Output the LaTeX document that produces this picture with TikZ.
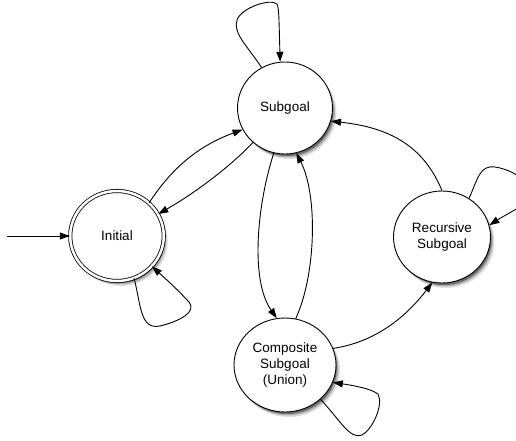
\documentclass[tikz,border=0pt]{standalone}
\usepackage{fontspec}
\setmainfont{Liberation Sans}
\usetikzlibrary{arrows.meta,shapes.geometric,shadows}
\begin{document}
\begin{tikzpicture}[x=1pt,y=-1pt,
  state/.style={ellipse, draw=black, line width=0.9pt, fill=white, inner sep=0pt, align=center,
    font=\fontsize{13.5}{16.3}\selectfont,
    drop shadow={shadow xshift=4pt, shadow yshift=-5pt, shadow scale=1.0, opacity=0.12, fill=black, draw=none},
    drop shadow={shadow xshift=3pt, shadow yshift=-4pt, shadow scale=0.99, opacity=0.22, fill=black, draw=none},
    drop shadow={shadow xshift=2pt, shadow yshift=-3pt, shadow scale=0.98, opacity=0.4, fill=black, draw=none}},
  edge/.style={line width=0.9pt, -{Triangle[length=10pt,width=7pt]}}]
\useasboundingbox (0,0) rectangle (516,441);
\clip (0,0) rectangle (516,441);

\node[state, minimum width=95pt, minimum height=92pt] (sub) at (285,108) {Subgoal};
\node[state, minimum width=93.5pt, minimum height=90pt, double=white, double distance=2.5pt, line width=0.8pt] (ini) at (117,236) {Initial};
\node[state, minimum width=102pt, minimum height=94pt] (comp) at (285,365) {Composite\\Subgoal\\(Union)};
\node[state, minimum width=97pt, minimum height=92pt] (rec) at (442,237) {Recursive\\Subgoal};

\coordinate (start) at (7,236);
\draw[edge] (start) -- (ini.west);

% Initial <-> Subgoal
\draw[edge] (ini.46) .. controls (172,168) and (198,146) .. (sub.207);
\draw[edge] (sub.227) .. controls (235,162) and (200,190) .. (ini.28);

% Subgoal <-> Composite
\draw[edge] (sub.256) .. controls (257,205) and (250,280) .. (comp.100);
\draw[edge] (comp.77) .. controls (316,275) and (318,195) .. (sub.284);

% Composite -> Recursive
\draw[edge] (comp.19) .. controls (375,342) and (405,318) .. (rec.258);

% Recursive -> Subgoal
\draw[edge] (rec.90) .. controls (425,150) and (395,128) .. (sub.344);

% self loops
\draw[edge] (sub.120) .. controls (245,43) and (233,33) .. (237,20)
  .. controls (241,8) and (270,-2) .. (277,4) .. controls (279,8) and (279,20) .. (sub.96);
\draw[edge] (ini.292) .. controls (141,305) and (140,330) .. (160,326)
  .. controls (180,321) and (197,312) .. (189,302) .. controls (180,292) and (167,280) .. (ini.319);
\draw[edge] (comp.316) .. controls (340,420) and (350,440) .. (362,435)
  .. controls (372,430) and (384,405) .. (378,394) .. controls (370,388) and (350,385) .. (comp.340);
\draw[edge] (rec.55) .. controls (478,178) and (480,165) .. (495,167)
  .. controls (515,170) and (535,185) .. (530,198) .. controls (526,205) and (505,215) .. (rec.14);
\end{tikzpicture}
\end{document}
